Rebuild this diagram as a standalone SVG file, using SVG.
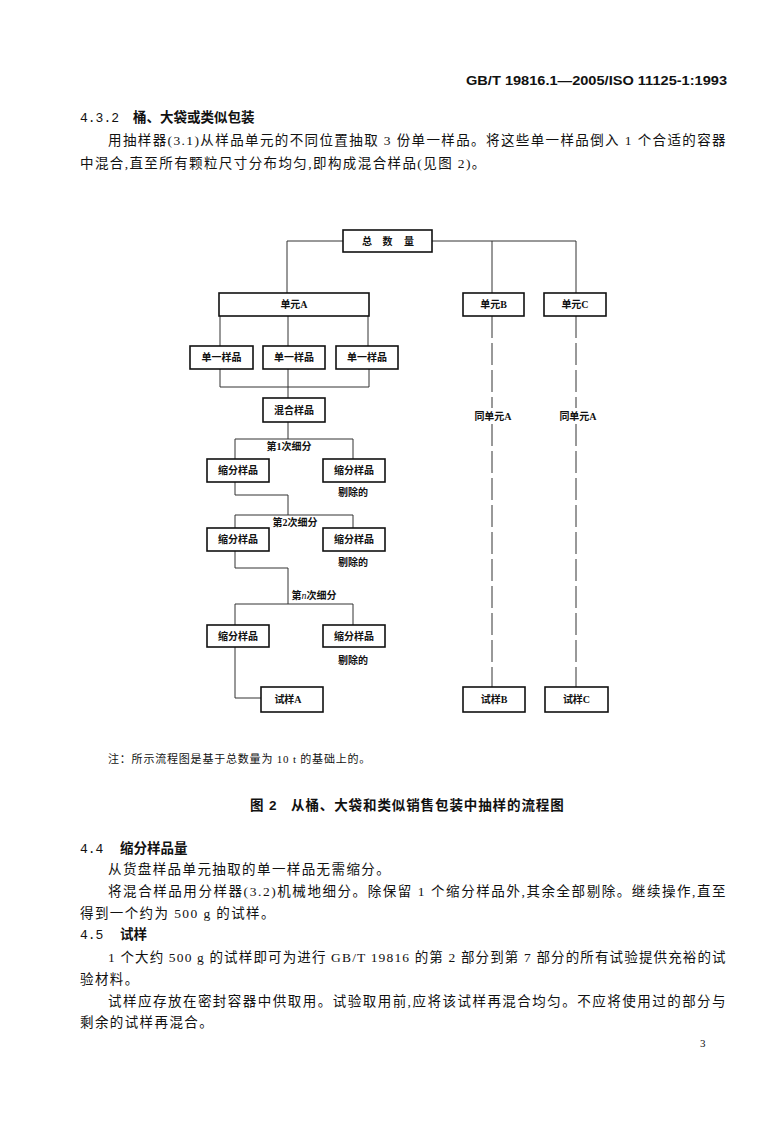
<svg xmlns="http://www.w3.org/2000/svg" width="770" height="1122" viewBox="0 0 770 1122">
<style>
.bg{fill:#fff}
.box{fill:#fff;stroke:#111;stroke-width:1.6}
.ln{fill:none;stroke:#333;stroke-width:1}
.dash{stroke-dasharray:22 5}
.lbl{font-family:'Liberation Serif','Noto Sans CJK SC',serif;font-size:10px;font-weight:bold;text-anchor:middle;dominant-baseline:central;fill:#111}
.body{font-family:'Liberation Serif','Noto Sans CJK SC',serif;font-size:13.5px;letter-spacing:1.4px;fill:#111}
.hd{font-family:'Liberation Sans','Noto Sans CJK SC',sans-serif;font-size:13.5px;font-weight:bold;fill:#111}
.num{font-family:'Liberation Mono',monospace;font-size:13px;font-weight:normal;letter-spacing:0px}
.note{font-family:'Liberation Serif','Noto Sans CJK SC',serif;font-size:11px;letter-spacing:0.8px;fill:#111}
</style>
<rect class="bg" x="0" y="0" width="770" height="1122"/>

<g id="page-text">
<text x="727" y="85" text-anchor="end" textLength="261" lengthAdjust="spacingAndGlyphs" style="font-family:'Liberation Sans',sans-serif;font-size:12px;font-weight:bold;fill:#111">GB/T 19816.1—2005/ISO 11125-1:1993</text>
<text class="hd" x="80" y="122"><tspan class="num">4.3.2</tspan><tspan x="133">桶、大袋或类似包装</tspan></text>
<text class="body" x="108" y="145" textLength="619" lengthAdjust="spacing">用抽样器(3.1)从样品单元的不同位置抽取 3 份单一样品。将这些单一样品倒入 1 个合适的容器</text>
<text class="body" x="80" y="168">中混合,直至所有颗粒尺寸分布均匀,即构成混合样品(见图 2)。</text>

<text class="note" x="108" y="763">注：所示流程图是基于总数量为 10 t 的基础上的。</text>
<text class="hd" y="810" style="letter-spacing:0.9px"><tspan x="250">图 2</tspan><tspan x="291">从桶、大袋和类似销售包装中抽样的流程图</tspan></text>

<text class="hd" x="80" y="853"><tspan class="num">4.4</tspan><tspan x="120">缩分样品量</tspan></text>
<text class="body" x="108" y="874">从货盘样品单元抽取的单一样品无需缩分。</text>
<text class="body" x="108" y="896" textLength="619" lengthAdjust="spacing">将混合样品用分样器(3.2)机械地细分。除保留 1 个缩分样品外,其余全部剔除。继续操作,直至</text>
<text class="body" x="80" y="918">得到一个约为 500 g 的试样。</text>
<text class="hd" x="80" y="939"><tspan class="num">4.5</tspan><tspan x="120">试样</tspan></text>
<text class="body" x="108" y="962" textLength="619" lengthAdjust="spacing">1 个大约 500 g 的试样即可为进行 GB/T 19816 的第 2 部分到第 7 部分的所有试验提供充裕的试</text>
<text class="body" x="80" y="984">验材料。</text>
<text class="body" x="108" y="1006" textLength="619" lengthAdjust="spacing">试样应存放在密封容器中供取用。试验取用前,应将该试样再混合均匀。不应将使用过的部分与</text>
<text class="body" x="80" y="1027">剩余的试样再混合。</text>
<text x="700" y="1047" style="font-family:'Liberation Serif',serif;font-size:11px;fill:#111">3</text>
</g>

<g id="connectors">
<polyline class="ln" points="287,293 287,241 343,241"/>
<polyline class="ln" points="432,241 576,241 576,293"/>
<line class="ln" x1="492" y1="241" x2="492" y2="293"/>
<line class="ln" x1="220" y1="316" x2="220" y2="346"/>
<line class="ln" x1="288" y1="316" x2="288" y2="346"/>
<line class="ln" x1="368" y1="316" x2="368" y2="346"/>
<polyline class="ln" points="220,369 220,387 369,387 369,369"/>
<line class="ln" x1="288" y1="369" x2="288" y2="398"/>
<line class="ln" x1="288" y1="422" x2="288" y2="439"/>
<polyline class="ln" points="235,459 235,439 353,439 353,459"/>
<polyline class="ln" points="235,482 235,495 288,495 288,515"/>
<polyline class="ln" points="235,528 235,515 353,515 353,528"/>
<polyline class="ln" points="235,551 235,568 288,568 288,604"/>
<polyline class="ln" points="235,625 235,604 353,604 353,625"/>
<polyline class="ln" points="235,647 235,698 261,698"/>
<line class="ln dash" x1="492" y1="316" x2="492" y2="408"/>
<line class="ln dash" x1="492" y1="424" x2="492" y2="687"/>
<line class="ln dash" x1="576" y1="316" x2="576" y2="408"/>
<line class="ln dash" x1="576" y1="424" x2="576" y2="687"/>
</g>

<g id="n-total"><rect class="box" x="343" y="230" width="89" height="22"/><text class="lbl" y="241"><tspan x="367">总</tspan><tspan x="387.5">数</tspan><tspan x="409">量</tspan></text></g>
<g id="n-unitA"><rect class="box" x="219" y="293" width="150" height="23"/><text class="lbl" x="294" y="304.5">单元A</text></g>
<g id="n-unitB"><rect class="box" x="463" y="293" width="61" height="23"/><text class="lbl" x="493.5" y="304.5">单元B</text></g>
<g id="n-unitC"><rect class="box" x="544" y="293" width="62" height="23"/><text class="lbl" x="575" y="304.5">单元C</text></g>
<g id="n-single1"><rect class="box" x="190" y="346" width="63" height="23"/><text class="lbl" x="221.5" y="357.5">单一样品</text></g>
<g id="n-single2"><rect class="box" x="263" y="346" width="62" height="23"/><text class="lbl" x="294" y="357.5">单一样品</text></g>
<g id="n-single3"><rect class="box" x="336" y="346" width="62" height="23"/><text class="lbl" x="367" y="357.5">单一样品</text></g>
<g id="n-mixed"><rect class="box" x="263" y="398" width="62" height="24"/><text class="lbl" x="294" y="410">混合样品</text></g>
<g id="l-sameB"><text class="lbl" x="493" y="416">同单元A</text></g>
<g id="l-sameC"><text class="lbl" x="578" y="416">同单元A</text></g>

<g id="l-div1"><text class="lbl" x="289" y="446">第1次细分</text></g>
<g id="n-r1k"><rect class="box" x="207" y="459" width="62" height="23"/><text class="lbl" x="238" y="470.5">缩分样品</text></g>
<g id="n-r1d"><rect class="box" x="323" y="459" width="62" height="23"/><text class="lbl" x="354" y="470.5">缩分样品</text><text class="lbl" x="353" y="492">剔除的</text></g>

<g id="l-div2"><text class="lbl" x="295" y="522">第2次细分</text></g>
<g id="n-r2k"><rect class="box" x="207" y="528" width="62" height="23"/><text class="lbl" x="238" y="539.5">缩分样品</text></g>
<g id="n-r2d"><rect class="box" x="323" y="528" width="62" height="23"/><text class="lbl" x="354" y="539.5">缩分样品</text><text class="lbl" x="353" y="562">剔除的</text></g>

<g id="l-divn"><text class="lbl" x="314" y="595">第<tspan font-style="italic" font-weight="normal">n</tspan>次细分</text></g>
<g id="n-r3k"><rect class="box" x="207" y="625" width="62" height="22"/><text class="lbl" x="238" y="636">缩分样品</text></g>
<g id="n-r3d"><rect class="box" x="323" y="625" width="62" height="22"/><text class="lbl" x="354" y="636">缩分样品</text><text class="lbl" x="353" y="660">剔除的</text></g>

<g id="n-testA"><rect class="box" x="261" y="687" width="62" height="25"/><text class="lbl" x="288" y="699.5">试样A</text></g>
<g id="n-testB"><rect class="box" x="463" y="687" width="62" height="25"/><text class="lbl" x="494" y="699.5">试样B</text></g>
<g id="n-testC"><rect class="box" x="545" y="687" width="63" height="25"/><text class="lbl" x="576.5" y="699.5">试样C</text></g>
</svg>
